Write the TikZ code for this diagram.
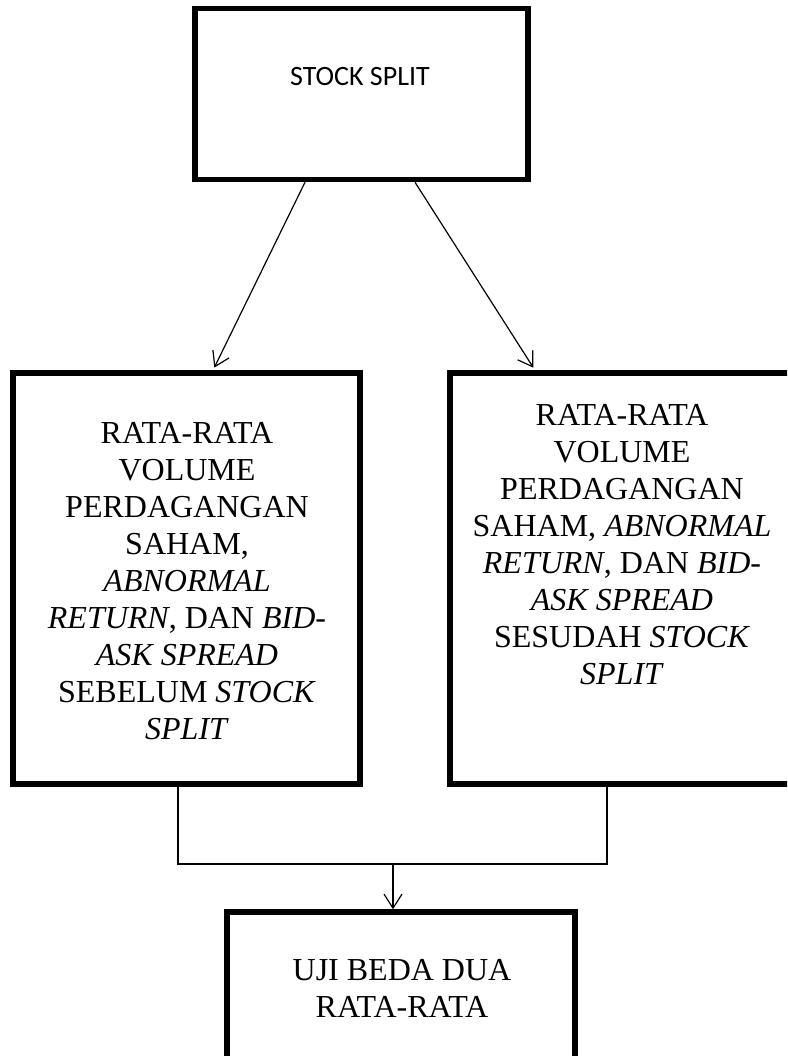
\documentclass[tikz,border=0pt]{standalone}
\usepackage{fontspec}
\setmainfont{Liberation Serif}
\newfontfamily\calibrifont{Carlito}
\usetikzlibrary{arrows.meta}
\begin{document}
\begin{tikzpicture}[x=1pt,y=-1pt,
  box/.style={draw=black,line width=5.5pt,rectangle,inner sep=0pt},
  lbl/.style={inner sep=0pt,align=center,font=\fontsize{32}{37}\selectfont,anchor=north},
  conn/.style={draw=black,line width=1.2pt},
  arr/.style={conn,-{Straight Barb[length=14pt,width=18pt,line width=1.2pt]}}]
\useasboundingbox (0,0) rectangle (787,1056);
\fill[white] (0,0) rectangle (787,1056);
\clip (0,0) rectangle (787,1056);
% boxes
\node[box,minimum width=333pt,minimum height=171pt] (tbox) at (361.5,94) {};
\node[box,minimum width=347pt,minimum height=411pt] (lbox) at (186.5,578.5) {};
\node[box,minimum width=345pt,minimum height=411pt] (rbox) at (622.5,578.5) {};
\node[box,minimum width=348pt,minimum height=200pt] (bbox) at (401,1012) {};
% texts
\node[inner sep=0pt,anchor=base,font=\calibrifont\fontsize{28}{34}\selectfont] (ttxt) at (360,86) {STOCK SPLIT};
\node[lbl] (ltxt) at (187,422) {RATA-RATA\\VOLUME\\PERDAGANGAN\\SAHAM,\\\textit{ABNORMAL}\\\textit{RETURN}, DAN \textit{BID-}\\\textit{ASK SPREAD}\\SEBELUM \textit{STOCK}\\\textit{SPLIT}};
\node[lbl] (rtxt) at (622,404) {RATA-RATA\\VOLUME\\PERDAGANGAN\\SAHAM, \textit{ABNORMAL}\\\textit{RETURN}, DAN \textit{BID-}\\\textit{ASK SPREAD}\\SESUDAH \textit{STOCK}\\\textit{SPLIT}};
\node[lbl] (btxt) at (402,959) {UJI BEDA DUA\\RATA-RATA};
% connectors
\coordinate (ta) at (305,0);
\coordinate (tb) at (415,0);
\coordinate (la) at (213,0);
\coordinate (ra) at (535,0);
\draw[arr,shorten >=3pt] (tbox.south -| ta) -- (lbox.north -| la);
\draw[arr,shorten >=3pt] (tbox.south -| tb) -- (rbox.north -| ra);
\coordinate (l1) at (178,864);
\coordinate (r1) at (607,864);
\coordinate (m) at (393,864);
\draw[conn] (lbox.south -| l1) -- (l1) -- (r1) -- (rbox.south -| r1);
\draw[arr] (m) -- (bbox.north -| m);
\end{tikzpicture}
\end{document}
